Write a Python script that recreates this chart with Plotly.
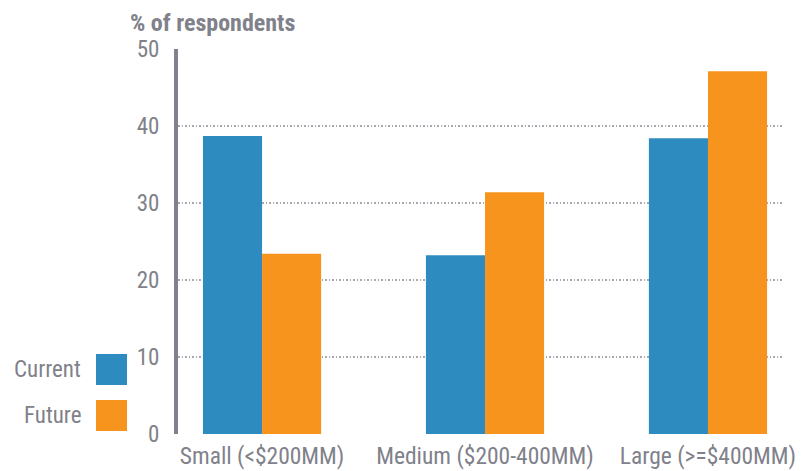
import plotly.graph_objects as go

categories = ["Small (<$200MM)", "Medium ($200-400MM)", "Large (>=$400MM)"]
current = [38.7, 23.2, 38.4]
future = [23.4, 31.4, 47.1]
yticks = [0, 10, 20, 30, 40, 50]

BLUE = "#2e8bc0"
ORANGE = "#f7941e"
GREY = "#80818a"
FONT = "Roboto Condensed, Liberation Sans Narrow, Roboto, sans-serif"

fig = go.Figure()
fig.add_bar(x=[0, 1, 2], y=current, name="Current", marker_color=BLUE, marker_line_width=0)
fig.add_bar(x=[0, 1, 2], y=future, name="Future", marker_color=ORANGE, marker_line_width=0)

fig.update_layout(
    width=811, height=471,
    margin=dict(l=178, r=29, t=49, b=37, autoexpand=False),
    barmode="group", bargap=0.47, bargroupgap=0,
    plot_bgcolor="white", paper_bgcolor="white",
    showlegend=False,
    font=dict(family=FONT, color=GREY, size=23),
    xaxis=dict(
        range=[-0.377, 2.332], tickvals=[0, 1, 2], ticktext=categories,
        showgrid=False, zeroline=False, showline=False, ticks="",
        automargin=False, ticklabelstandoff=5,
        tickfont=dict(size=23.5, color=GREY, family=FONT),
    ),
    yaxis=dict(
        range=[0, 50], tickvals=yticks, showgrid=True, gridcolor="#a8a9b0",
        griddash="1.5px,2px", gridwidth=1.5, zeroline=False, automargin=False,
        showline=True, linecolor=GREY, linewidth=4, ticks="",
        ticklabelstandoff=10,
        tickfont=dict(size=23, color=GREY, family=FONT),
    ),
)

fig.add_annotation(text="<b>% of respondents</b>", xref="paper", yref="paper",
                   x=(128 - 178) / 604, y=1.025, xanchor="left", yanchor="bottom", showarrow=False,
                   font=dict(size=24, color=GREY, family=FONT))

# Legend drawn manually (symbol on the right of label)
legend_items = [("Current", BLUE), ("Future", ORANGE)]
for i, (label, col) in enumerate(legend_items):
    y_top = 354 + i * 46
    y0 = 1 - (y_top + 31 - 49) / 385
    y1 = 1 - (y_top - 49) / 385
    fig.add_shape(type="rect", xref="paper", yref="paper",
                  x0=(96 - 178) / 604, x1=(127 - 178) / 604, y0=y0, y1=y1,
                  fillcolor=col, line_width=0)
    fig.add_annotation(text=label, xref="paper", yref="paper",
                       x=(83 - 178) / 604, y=(y0 + y1) / 2, xanchor="right", yanchor="middle",
                       showarrow=False, font=dict(size=23, color=GREY, family=FONT))

fig.write_html("out.html", config={"displayModeBar": False},
               post_script="document.body.style.margin='0';document.body.style.overflow='hidden';")
